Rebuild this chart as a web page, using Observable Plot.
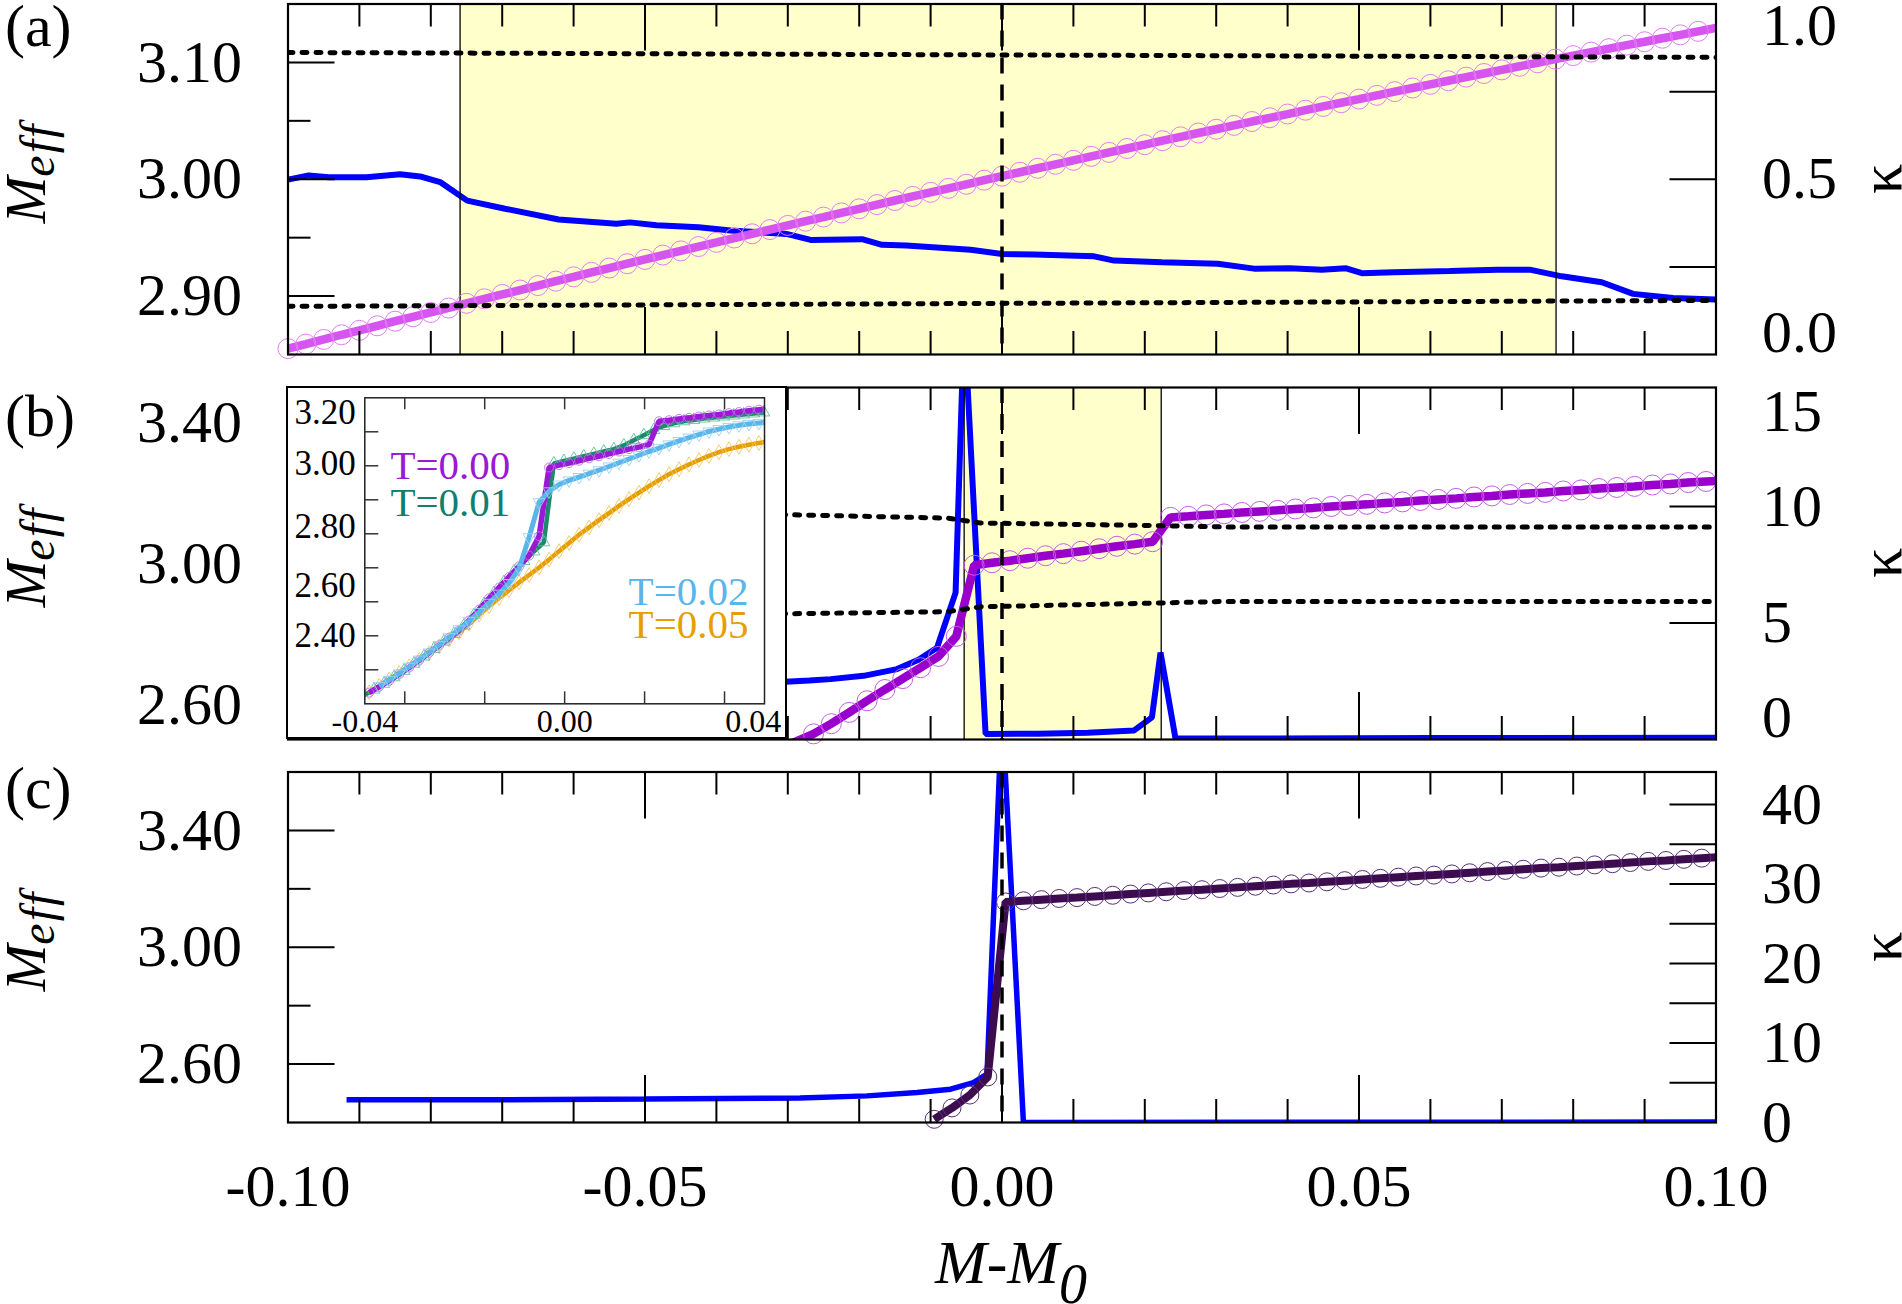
<!DOCTYPE html>
<html>
<head>
<meta charset="utf-8">
<script src="https://cdn.jsdelivr.net/npm/d3@7"></script>
<script src="https://cdn.jsdelivr.net/npm/@observablehq/plot@0.6"></script>
<style>
  html, body { margin: 0; padding: 0; background: #fff; }
  #fig { position: relative; width: 1902px; height: 1304px; background: #fff; overflow: hidden; }
</style>
</head>
<body>
<div id="fig"></div>
<script>
// ---------------- shared axis values ----------------
const xTickValues = [-0.10, -0.05, 0.00, 0.05, 0.10];
const xTickLabels = ["-0.10", "-0.05", "0.00", "0.05", "0.10"];
const xMajorTicks = [-0.05, 0.00, 0.05];
const xMinorTicks = [-0.09, -0.08, -0.07, -0.06, -0.04, -0.03, -0.02, -0.01,
                     0.01, 0.02, 0.03, 0.04, 0.06, 0.07, 0.08, 0.09];
const panelTags = ["(a)", "(b)", "(c)"];

// ---------------- panel (a) ----------------
const gridA = [
  -0.1000,-0.0975,-0.0950,-0.0925,-0.0900,-0.0875,-0.0850,-0.0825,-0.0800,-0.0775,
  -0.0750,-0.0725,-0.0700,-0.0675,-0.0650,-0.0625,-0.0600,-0.0575,-0.0550,-0.0525,
  -0.0500,-0.0475,-0.0450,-0.0425,-0.0400,-0.0375,-0.0350,-0.0325,-0.0300,-0.0275,
  -0.0250,-0.0225,-0.0200,-0.0175,-0.0150,-0.0125,-0.0100,-0.0075,-0.0050,-0.0025,
   0.0000, 0.0025, 0.0050, 0.0075, 0.0100, 0.0125, 0.0150, 0.0175, 0.0200, 0.0225,
   0.0250, 0.0275, 0.0300, 0.0325, 0.0350, 0.0375, 0.0400, 0.0425, 0.0450, 0.0475,
   0.0500, 0.0525, 0.0550, 0.0575, 0.0600, 0.0625, 0.0650, 0.0675, 0.0700, 0.0725,
   0.0750, 0.0775, 0.0800, 0.0825, 0.0850, 0.0875, 0.0900, 0.0925, 0.0950, 0.0975,
   0.1000];
const meffA = [
  2.8550,2.8589,2.8629,2.8669,2.8707,2.8746,2.8785,2.8823,2.8860,2.8898,
  2.8938,2.8977,2.9014,2.9052,2.9090,2.9128,2.9165,2.9203,2.9240,2.9277,
  2.9314,2.9351,2.9387,2.9424,2.9460,2.9497,2.9533,2.9569,2.9605,2.9641,
  2.9676,2.9712,2.9747,2.9783,2.9818,2.9853,2.9888,2.9922,2.9957,2.9992,
  3.0026,3.0060,3.0094,3.0128,3.0162,3.0196,3.0230,3.0263,3.0296,3.0330,
  3.0363,3.0396,3.0428,3.0461,3.0494,3.0526,3.0558,3.0591,3.0623,3.0655,
  3.0686,3.0718,3.0750,3.0781,3.0812,3.0843,3.0874,3.0905,3.0936,3.0967,
  3.0997,3.1028,3.1058,3.1088,3.1118,3.1148,3.1177,3.1207,3.1236,3.1266,
  3.1295];
const kappaXA = [-0.1,-0.0971,-0.0943,-0.089,-0.0843,-0.0815,-0.0787,-0.0749,-0.0696,-0.0621,
  -0.054,-0.0521,-0.0484,-0.0425,-0.038,-0.0302,-0.0268,-0.0196,-0.0168,-0.0134,
  -0.0044,0.0,0.0045,0.0129,0.0157,0.0224,0.0302,0.0353,0.0403,0.0448,
  0.0482,0.0504,0.0549,0.0627,0.0694,0.0739,0.0784,0.084,0.0884,0.094,0.1];
const kappaA = [0.499,0.511,0.506,0.506,0.514,0.508,0.492,0.439,0.416,0.385,
  0.373,0.377,0.369,0.363,0.354,0.344,0.327,0.329,0.313,0.311,
  0.299,0.287,0.285,0.280,0.268,0.263,0.259,0.245,0.246,0.242,
  0.246,0.232,0.235,0.238,0.242,0.242,0.223,0.206,0.173,0.161,0.157];
const boundXA = [-0.1, 0.1];
const upperBoundA = [3.1085, 3.1043];
const lowerBoundA = [2.8912, 2.8963];
const windowA = [-0.0759, 0.0776];
const meffMajorA = [2.90, 3.00, 3.10];
const meffLabelsA = ["2.90", "3.00", "3.10"];
const meffMinorA = [2.95, 3.05];
const kappaTicksA = [0.25, 0.5, 0.75];
const kappaLabelAtA = [0, 0.5, 1];
const kappaLabelsA = ["0.0", "0.5", "1.0"];

// ---------------- panel (b): T = 0.00 ----------------
const gridB = [
  -0.0489,-0.0464,-0.0439,-0.0414,-0.0389,-0.0364,-0.0339,-0.0314,-0.0289,-0.0264,
  -0.0239,-0.0214,-0.0189,-0.0164,-0.0139,-0.0114,-0.0089,-0.0064,-0.0039,-0.0014,
   0.0011, 0.0036, 0.0061, 0.0086, 0.0111, 0.0136, 0.0161, 0.0186, 0.0211, 0.0236,
   0.0261, 0.0286, 0.0311, 0.0336, 0.0361, 0.0386, 0.0411, 0.0436, 0.0461, 0.0486,
   0.0511, 0.0536, 0.0561, 0.0586, 0.0611, 0.0636, 0.0661, 0.0686, 0.0711, 0.0736,
   0.0761, 0.0786, 0.0811, 0.0836, 0.0861, 0.0886, 0.0911, 0.0936, 0.0961, 0.0986,
   0.1011];
const meffB = [
  2.333,2.350,2.368,2.387,2.407,2.428,2.450,2.472,2.494,2.516,
  2.545,2.577,2.610,2.642,2.673,2.704,2.736,2.793,2.995,3.002,
  3.008,3.015,3.022,3.028,3.035,3.042,3.049,3.055,3.062,3.131,
  3.134,3.138,3.141,3.145,3.148,3.151,3.155,3.158,3.162,3.165,
  3.168,3.172,3.175,3.179,3.182,3.185,3.189,3.192,3.196,3.199,
  3.202,3.206,3.209,3.213,3.216,3.219,3.223,3.226,3.230,3.233,
  3.236];
const kappaXB = [-0.031,-0.027,-0.024,-0.0194,-0.0147,-0.0117,-0.0091,-0.0065,-0.0053,-0.0023,
  0.005,0.012,0.0185,0.021,0.0222,0.0243,0.06,0.1];
const kappaB = [2.47,2.53,2.59,2.73,3.02,3.42,3.94,6.3,18.0,0.24,
  0.25,0.29,0.39,0.95,3.73,0.04,0.06,0.08];
const boundXB = [-0.031, -0.0077, -0.003, 0.0203, 0.0306, 0.1];
const upperBoundB = [3.139, 3.129, 3.115, 3.108, 3.104, 3.104];
const lowerBoundB = [2.857, 2.863, 2.877, 2.887, 2.892, 2.892];
const windowB = [-0.0053, 0.0223];
const meffMajorBC = [2.60, 3.00, 3.40];
const meffLabelsBC = ["2.60", "3.00", "3.40"];
const meffMinorBC = [2.80, 3.20];
const kappaTicksB = [5, 10];
const kappaLabelAtB = [0, 5, 10, 15];
const kappaLabelsB = ["0", "5", "10", "15"];

// inset of (b): other temperatures
const meffT002 = [
  2.334,2.352,2.370,2.389,2.409,2.430,2.451,2.473,2.496,2.519,
  2.544,2.570,2.597,2.624,2.655,2.698,2.790,2.893,2.925,2.945,
  2.957,2.967,2.977,2.987,2.998,3.009,3.020,3.031,3.042,3.052,
  3.063,3.073,3.083,3.092,3.101,3.108,3.114,3.119,3.123,3.126,
  3.129];
const meffT005 = [
  2.334,2.353,2.372,2.391,2.410,2.429,2.449,2.469,2.489,2.511,
  2.535,2.562,2.587,2.611,2.634,2.657,2.679,2.701,2.724,2.749,
  2.773,2.797,2.819,2.840,2.861,2.882,2.902,2.921,2.940,2.958,
  2.975,2.990,3.004,3.017,3.029,3.040,3.049,3.056,3.062,3.067,
  3.072];
const gridT001 = [
  -0.0502,-0.0477,-0.0452,-0.0427,-0.0402,-0.0377,-0.0352,-0.0327,-0.0302,-0.0277,
  -0.0252,-0.0227,-0.0202,-0.0177,-0.0152,-0.0127,-0.0102,-0.0077,-0.0052,-0.0027,
  -0.0002, 0.0023, 0.0048, 0.0073, 0.0098, 0.0123, 0.0148, 0.0173, 0.0198, 0.0223,
   0.0248, 0.0273, 0.0298, 0.0323, 0.0348, 0.0373, 0.0398, 0.0423, 0.0448, 0.0473,
   0.0498, 0.0523];
const meffT001 = [
  2.325,2.342,2.359,2.378,2.397,2.418,2.439,2.461,2.483,2.505,
  2.530,2.561,2.593,2.626,2.658,2.689,2.720,2.748,2.775,3.007,
  3.014,3.021,3.028,3.035,3.042,3.049,3.060,3.075,3.090,3.105,
  3.117,3.125,3.131,3.135,3.139,3.142,3.145,3.148,3.151,3.154,
  3.157,3.160];
const insetXTicks = [-0.04, -0.02, 0.00, 0.02, 0.04];
const insetXLabels = ["-0.04", "0.00", "0.04"];
const insetYTicks = [2.4, 2.5, 2.6, 2.7, 2.8, 2.9, 3.0, 3.1];
const insetYLabels = ["3.20", "3.00", "2.80", "2.60", "2.40"];

// ---------------- panel (c) ----------------
const gridC = [
  -0.0095,-0.0070,-0.0045,-0.0020, 0.0005, 0.0030, 0.0055, 0.0080, 0.0105, 0.0130,
   0.0155, 0.0180, 0.0205, 0.0230, 0.0255, 0.0280, 0.0305, 0.0330, 0.0355, 0.0380,
   0.0405, 0.0430, 0.0455, 0.0480, 0.0505, 0.0530, 0.0555, 0.0580, 0.0605, 0.0630,
   0.0655, 0.0680, 0.0705, 0.0730, 0.0755, 0.0780, 0.0805, 0.0830, 0.0855, 0.0880,
   0.0905, 0.0930, 0.0955, 0.0980, 0.1005];
const meffC = [
  2.411,2.450,2.494,2.556,3.155,3.159,3.163,3.167,3.170,3.174,
  3.178,3.182,3.186,3.190,3.194,3.197,3.201,3.205,3.209,3.213,
  3.217,3.220,3.224,3.228,3.232,3.236,3.240,3.244,3.247,3.251,
  3.255,3.259,3.263,3.267,3.271,3.274,3.278,3.282,3.286,3.290,
  3.294,3.297,3.301,3.305,3.309];
const kappaXC = [-0.0918,-0.07,-0.05,-0.0283,-0.0189,-0.0119,-0.0072,-0.004,-0.0021,0.0,0.003,0.1];
const kappaC = [2.85,2.87,2.95,3.07,3.35,3.77,4.19,5.03,6.08,52,0.0,0.05];
const kappaTicksC = [5, 10, 15, 20, 25, 30, 35, 40];
const kappaLabelAtC = [0, 10, 20, 30, 40];
const kappaLabelsC = ["0", "10", "20", "30", "40"];

// ---------------- layout helpers ----------------
const fig = document.getElementById("fig");
const W = 1902, ML = 287.5, MR = 186.5, FW = W - ML - MR;
const SERIF = '"Liberation Serif", "Times New Roman", Times, serif';
const BLUE = "#0000ff";
const rows = (xs, ys) => xs.map((x, i) => ({x, y: ys[i]}));

function mount(node, left, top) {
  node.style.position = "absolute";
  node.style.left = left + "px";
  node.style.top = top + "px";
  fig.append(node);
  return node;
}

function buildPanel(p) {
  const fh = p.height - p.mt - p.mb;
  const frame = {width: W, height: p.height, marginLeft: ML, marginRight: MR,
                 marginTop: p.mt, marginBottom: p.mb};

  // lower layer: shaded window, kappa curve and right-hand axis
  const lastK = p.kLabelAt.length - 1;
  const kappaPlot = Plot.plot({
    ...frame,
    x: {domain: [-0.1, 0.1], axis: null},
    y: {domain: p.kDomain, axis: null},
    style: {background: "transparent", fontFamily: SERIF, overflow: "visible"},
    marks: [
      p.window ? Plot.rect([p.window], {x1: d => d[0], x2: d => d[1],
        y1: p.kDomain[0], y2: p.kDomain[1], fill: "#ffffcc"}) : null,
      Plot.line(rows(p.kx, p.ky), {x: "x", y: "y", stroke: BLUE, strokeWidth: p.kWidth,
        strokeLinecap: "butt", strokeLinejoin: "miter", clip: true}),
      Plot.tickY(p.kTicks, {y: d => d, stroke: "#000", strokeWidth: 2, insetLeft: FW - 46}),
      ...p.kLabelAt.map((v, i) => Plot.text([v], {
        y: d => d, text: () => p.kLabels[i], frameAnchor: "right", textAnchor: "start",
        dx: 46, dy: i === 0 ? -p.kEdge : i === lastK ? p.kEdge : 0,
        fontSize: 60, lineAnchor: "middle"}))
    ].filter(Boolean)
  });
  mount(kappaPlot, 0, p.top);

  // upper layer: M_eff curve, guides, frame and left axis
  const meffRows = rows(p.mx, p.my);
  const meffPlot = Plot.plot({
    ...frame,
    x: {domain: [-0.1, 0.1], axis: null},
    y: {domain: p.mDomain, axis: null},
    style: {background: "transparent", fontFamily: SERIF, overflow: "visible"},
    marks: [
      p.window ? Plot.ruleX(p.window, {x: d => d, stroke: "#000", strokeWidth: 1.3}) : null,
      Plot.line(meffRows, {x: "x", y: "y", stroke: p.mColor, strokeWidth: p.mWidth,
        strokeLinecap: "butt", strokeLinejoin: "miter", clip: true}),
      Plot.dot(meffRows.filter(p.dotFilter), {x: "x", y: "y", r: p.r, fill: "none",
        stroke: p.dotColor, strokeWidth: 1}),
      ...(p.bounds || []).map(([xs, ys]) => Plot.line(rows(xs, ys), {x: "x", y: "y",
        stroke: "#000", strokeWidth: 5, strokeDasharray: "5,9", clip: true})),
      Plot.ruleX([0], {x: d => d, stroke: "#000", strokeWidth: 3.5, strokeDasharray: "16,11"}),
      Plot.frame({stroke: "#000", strokeWidth: 2.2}),
      Plot.tickX(xMinorTicks, {x: d => d, stroke: "#000", strokeWidth: 2, insetBottom: fh - 23}),
      Plot.tickX(xMinorTicks, {x: d => d, stroke: "#000", strokeWidth: 2, insetTop: fh - 23}),
      Plot.tickX(xMajorTicks, {x: d => d, stroke: "#000", strokeWidth: 2, insetBottom: fh - 47}),
      Plot.tickX(xMajorTicks, {x: d => d, stroke: "#000", strokeWidth: 2, insetTop: fh - 47}),
      Plot.tickY(p.yMajor, {y: d => d, stroke: "#000", strokeWidth: 2, insetRight: FW - 47}),
      Plot.tickY(p.yMinor, {y: d => d, stroke: "#000", strokeWidth: 2, insetRight: FW - 23}),
      Plot.text(p.yMajor, {y: d => d, text: (d, i) => p.yLabels[i], frameAnchor: "left",
        textAnchor: "end", dx: -46, fontSize: 60, lineAnchor: "middle"}),
      p.xLabels ? Plot.text(xTickValues, {x: d => d, text: (d, i) => xTickLabels[i],
        frameAnchor: "bottom", dy: 64, fontSize: 60, lineAnchor: "middle"}) : null
    ].filter(Boolean)
  });
  mount(meffPlot, 0, p.top);
}

// ---------------- panels ----------------
buildPanel({
  top: 0, height: 380, mt: 3.5, mb: 26,
  mDomain: [2.85, 3.15], kDomain: [0, 1],
  mx: gridA, my: meffA, mColor: "#d655f0", dotColor: "#e27df4", mWidth: 8.5, r: 10,
  dotFilter: d => d.x < 0.099,
  kx: kappaXA, ky: kappaA, kWidth: 6,
  window: windowA,
  bounds: [[boundXA, upperBoundA], [boundXA, lowerBoundA]],
  yMajor: meffMajorA, yMinor: meffMinorA, yLabels: meffLabelsA,
  kTicks: kappaTicksA, kLabelAt: kappaLabelAtA, kLabels: kappaLabelsA, kEdge: 22,
  xLabels: false
});

buildPanel({
  top: 355, height: 410, mt: 32, mb: 26,
  mDomain: [2.5, 3.5], kDomain: [0, 15.1],
  mx: gridB, my: meffB, mColor: "#9900cc", dotColor: "#c45ee8", mWidth: 8.5, r: 10,
  dotFilter: d => d.y >= 2.5 && d.x <= 0.1,
  kx: kappaXB, ky: kappaB, kWidth: 6,
  window: windowB,
  bounds: [[boundXB, upperBoundB], [boundXB, lowerBoundB]],
  yMajor: meffMajorBC, yMinor: meffMinorBC, yLabels: meffLabelsBC,
  kTicks: kappaTicksB, kLabelAt: kappaLabelAtB, kLabels: kappaLabelsB, kEdge: 22,
  xLabels: false
});

buildPanel({
  top: 740, height: 564, mt: 31.5, mb: 182,
  mDomain: [2.4, 3.6], kDomain: [0, 44.1],
  mx: gridC, my: meffC, mColor: "#3d0c4f", dotColor: "#5b2d7a", mWidth: 8, r: 9,
  dotFilter: d => d.x <= 0.1,
  kx: kappaXC, ky: kappaC, kWidth: 5.5,
  window: null, bounds: null,
  yMajor: meffMajorBC, yMinor: meffMinorBC, yLabels: meffLabelsBC,
  kTicks: kappaTicksC, kLabelAt: kappaLabelAtC, kLabels: kappaLabelsC, kEdge: 0,
  xLabels: true
});

// ---------------- inset of panel (b) ----------------
const triangleDown = {
  draw(context, size) {
    const s3 = Math.sqrt(3);
    const y = -Math.sqrt(size / (s3 * 3));
    context.moveTo(0, -y * 2);
    context.lineTo(-s3 * y, y);
    context.lineTo(s3 * y, y);
    context.closePath();
  }
};
const IW = 497, IH = 349, IML = 76.3, IMR = 21, IMT = 9.3, IMB = 33.7;
const IFW = IW - IML - IMR, IFH = IH - IMT - IMB;
const insetGrid = gridB.slice(0, 41);
const inWindow = d => d.x >= -0.05 && d.x <= 0.05;
const series = [
  {data: rows(insetGrid, meffT005), line: "#e69f00", mark: "#f3c766", symbol: "diamond", w: 4.5},
  {data: rows(gridT001, meffT001), line: "#1b8a6b", mark: "#5cbf9c", symbol: "triangle", w: 4.5},
  {data: rows(gridB, meffB).filter(d => d.x <= 0.052), line: "#9b18d4", mark: "#bb6ee8", symbol: "circle", w: 5.5},
  {data: rows(insetGrid, meffT002).filter(d => d.x > -0.047), line: "#5ab6ea", mark: "#98d3f2", symbol: triangleDown, w: 5}
];
// label placement of the inset tick labels, as printed
const insetYLabelSpots = [3.156, 3.007, 2.822, 2.647, 2.500];
const insetXLabelSpots = [-0.05, 0.0, 0.0472];

const insetBox = document.createElement("div");
insetBox.style.cssText = `width:${IW}px;height:${IH}px;border:2px solid #000;background:#fff;`;
mount(insetBox, 286, 386);
const insetPlot = Plot.plot({
  width: IW, height: IH, marginLeft: IML, marginRight: IMR, marginTop: IMT, marginBottom: IMB,
  x: {domain: [-0.05, 0.05], axis: null},
  y: {domain: [2.3, 3.2], axis: null},
  style: {background: "#fff", fontFamily: SERIF, overflow: "visible"},
  marks: [
    ...series.flatMap(s => [
      Plot.line(s.data, {x: "x", y: "y", stroke: s.line, strokeWidth: s.w,
        strokeLinejoin: "miter", strokeLinecap: "butt", clip: true}),
      Plot.dot(s.data.filter(inWindow), {x: "x", y: "y", r: 4.5, symbol: s.symbol,
        fill: "none", stroke: s.mark, strokeWidth: 0.9})
    ]),
    Plot.frame({stroke: "#222", strokeWidth: 1.5}),
    Plot.tickX(insetXTicks, {x: d => d, stroke: "#333", strokeWidth: 1.5, insetTop: IFH - 12}),
    Plot.tickX(insetXTicks, {x: d => d, stroke: "#333", strokeWidth: 1.5, insetBottom: IFH - 12}),
    Plot.tickY(insetYTicks, {y: d => d, stroke: "#333", strokeWidth: 1.5, insetRight: IFW - 14}),
    Plot.text(insetYLabelSpots, {y: d => d, text: (d, i) => insetYLabels[i], frameAnchor: "left",
      textAnchor: "end", dx: -9, fontSize: 35, lineAnchor: "middle"}),
    Plot.text(insetXLabelSpots, {x: d => d, text: (d, i) => insetXLabels[i], frameAnchor: "bottom",
      dy: 18.4, fontSize: 32, lineAnchor: "middle"}),
    Plot.text(["T=0.00"], {x: -0.0436, y: 3.0006, text: d => d, textAnchor: "start",
      fill: "#9b18d4", fontSize: 41, lineAnchor: "middle"}),
    Plot.text(["T=0.01"], {x: -0.0436, y: 2.8896, text: d => d, textAnchor: "start",
      fill: "#0f7f72", fontSize: 41, lineAnchor: "middle"}),
    Plot.text(["T=0.02"], {x: 0.016, y: 2.6285, text: d => d, textAnchor: "start",
      fill: "#5ab6ea", fontSize: 41, lineAnchor: "middle"}),
    Plot.text(["T=0.05"], {x: 0.016, y: 2.5307, text: d => d, textAnchor: "start",
      fill: "#e69f00", fontSize: 41, lineAnchor: "middle"})
  ]
});
insetPlot.style.display = "block";
insetBox.append(insetPlot);

// ---------------- panel tags and axis titles ----------------
const ann = d3.create("svg")
  .attr("width", W).attr("height", 1304)
  .attr("font-family", SERIF)
  .style("position", "absolute").style("left", "0px").style("top", "0px")
  .style("pointer-events", "none");

const tagBaselines = [46, 436, 808];
panelTags.forEach((t, i) =>
  ann.append("text").attr("x", 5).attr("y", tagBaselines[i]).attr("font-size", 60).text(t));

const frameCenters = [179, 563, 947];
frameCenters.forEach(cy => {
  const t = ann.append("text")
    .attr("transform", `translate(45,${cy - 6}) rotate(-90)`)
    .attr("text-anchor", "middle").attr("font-style", "italic");
  t.append("tspan").attr("font-size", 56).text("M");
  t.append("tspan").attr("font-size", 48).attr("dy", 9).attr("letter-spacing", 2).text("eff");

  ann.append("text")
    .attr("transform", `translate(1901,${cy}) rotate(-90)`)
    .attr("text-anchor", "middle").attr("font-size", 60).text("κ");
});

const xTitle = ann.append("text").attr("x", 935).attr("y", 1283)
  .attr("font-style", "italic").attr("font-size", 62);
xTitle.append("tspan").text("M-M");
xTitle.append("tspan").attr("dy", 20).attr("font-size", 56).text("0");

fig.append(ann.node());
</script>
</body>
</html>
